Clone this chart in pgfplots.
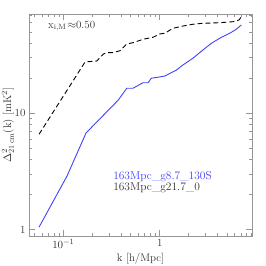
\documentclass[border=0pt]{standalone}
\usepackage{fontspec}
\usepackage{pgfplots}
\pgfplotsset{compat=1.18}
\definecolor{myblue}{RGB}{64,64,255}
\definecolor{axgray}{RGB}{150,150,150}
\definecolor{txtgray}{RGB}{50,50,50}
\begin{document}
\begin{tikzpicture}
\useasboundingbox (-29bp,-30bp) rectangle (237bp,236bp);
\begin{axis}[
  at={(0,0)}, anchor=south west,
  scale only axis, width=223bp, height=222bp,
  xmode=log, ymode=log,
  xmin=0.044, xmax=9.06, ymin=0.88, ymax=71.3,
  xtick={0.1,1}, xticklabels={$10^{-1}$,1},
  ytick={1,10}, yticklabels={1,10},
  minor xtick={0.05,0.06,0.07,0.08,0.09,0.2,0.3,0.4,0.5,0.6,0.7,0.8,0.9,2,3,4,5,6,7,8,9},
  minor ytick={2,3,4,5,6,7,8,9,20,30,40,50,60,70},
  major tick length=6bp, minor tick length=3bp,
  tick align=inside,
  axis line style={axgray, line width=0.9pt},
  every tick/.style={axgray, line width=0.7pt},
  tick label style={font=\fontsize{11}{13}\selectfont, text=txtgray},
  label style={font=\fontsize{11}{13}\selectfont, text=txtgray},
  xlabel={k [h/Mpc]},
  ylabel={$\Delta^2_{\rm 21\,cm}(\mathrm{k})$ [mK$^2$]},
  xlabel style={at={(axis description cs:0.5,-0.104)}, anchor=center},
  ylabel style={at={(axis description cs:-0.094,0.5)}, anchor=center},
  clip=false,
]
\addplot[myblue, line width=0.9pt] coordinates {
(0.056,1.05) (0.109,2.88) (0.172,6.77) (0.372,13.0) (0.455,16.4) (0.528,16.4)
(0.671,18.3) (0.757,18.3) (0.818,20.0) (0.96,20.4) (1.13,20.9) (1.49,23.5)
(1.74,26.0) (2.21,29.7) (2.81,35.0) (3.43,39.9) (4.19,44.1) (5.32,48.7)
(6.23,52.7) (7.02,57.4)
};
\addplot[black, line width=0.9pt, dash pattern=on 5bp off 3bp] coordinates {
(0.056,6.6) (0.168,27.6) (0.222,28.1) (0.260,32.3) (0.282,33.2) (0.330,33.2)
(0.388,34.5) (0.455,39.4) (0.528,40.4) (0.671,43.2) (0.852,45.0) (1.0,48.0)
(1.13,48.7) (1.37,53.7) (1.74,56.2) (2.21,58.2) (2.81,59.3) (4.19,60.0)
(5.75,61.2) (6.65,63.3) (7.02,67.6)
};
\node[anchor=west, text=txtgray, font=\fontsize{11}{13}\selectfont] at (rel axis cs:0.07,0.946) {x$_{\rm i,M}\!\approx$0.50};
\node[anchor=west, align=left, inner sep=0pt, font=\fontsize{11.5}{9}\selectfont] at (rel axis cs:0.377,0.241)
  {\textcolor{myblue}{163Mpc\_g8.7\_130S}\\\textcolor{txtgray}{163Mpc\_g21.7\_0}};
\end{axis}
\end{tikzpicture}
\end{document}
